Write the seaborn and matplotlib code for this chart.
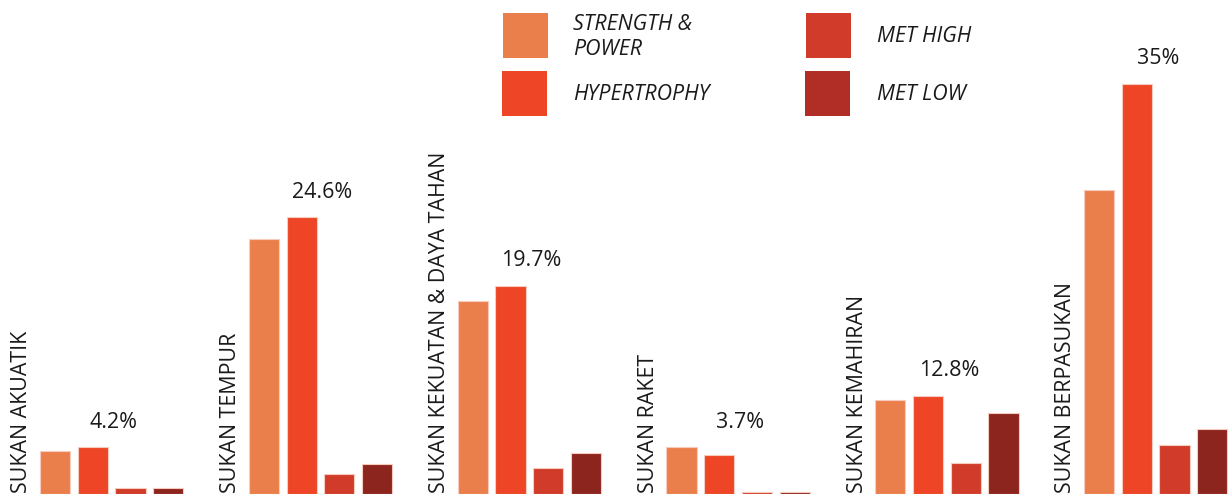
import matplotlib
matplotlib.use('Agg')
import matplotlib.pyplot as plt
import seaborn as sns
import pandas as pd
from matplotlib.patches import Rectangle

#sport groups and their overall share
groups = ['SUKAN AKUATIK', 'SUKAN TEMPUR', 'SUKAN KEKUATAN & DAYA TAHAN',
          'SUKAN RAKET', 'SUKAN KEMAHIRAN', 'SUKAN BERPASUKAN']
group_share = ['4.2%', '24.6%', '19.7%', '3.7%', '12.8%', '35%']

#training type series
series = ['STRENGTH &\nPOWER', 'HYPERTROPHY', 'MET HIGH', 'MET LOW']
strength_power = [4.3, 25.5, 19.3, 4.7, 9.4, 30.4]
hypertrophy = [4.7, 27.7, 20.8, 3.9, 9.8, 41.0]
met_high = [0.6, 2.0, 2.6, 0.2, 3.1, 4.9]
met_low = [0.6, 3.0, 4.1, 0.2, 8.1, 6.5]

#colours
bar_colors = ['#EB7F4C', '#EE4526', '#D13C2A', '#8D251F']
legend_colors = ['#EB7F4C', '#EE4526', '#D13C2A', '#B02E26']
TEXT_COLOR = '#1a1a1a'

sns.set_theme(style = 'white')
plt.rcParams['font.family'] = ['Open Sans', 'DejaVu Sans']

#long table for seaborn
rows = []
for name, vals in zip(series, [strength_power, hypertrophy, met_high, met_low]):
  for g, v in zip(groups, vals):
    rows.append({'group': g, 'series': name, 'value': v})
df = pd.DataFrame(rows)

W, H = 1230, 495
fig = plt.figure(figsize = (W / 100, H / 100), dpi = 100)
ax = fig.add_axes([0, 1 / H, 1, 1 - 1 / H])

sns.barplot(data = df, x = 'group', y = 'value', hue = 'series',
            order = groups, hue_order = series,
            palette = bar_colors, saturation = 1, width = 0.722, gap = 0.2,
            edgecolor = '#f7cbbd', linewidth = 0.8,
            errorbar = None, legend = False, ax = ax)

#x scale: ~208.8 px per group, first group centred at 111.7 px
px_per_group = 208.8
ax.set_xlim(-111.7 / px_per_group, (W - 111.7) / px_per_group)
ax.set_ylim(0, 49.4)
ax.set_axis_off()

#vertical group names on the left of each group
for i, g in enumerate(groups):
  ax.text(i - 0.43, 0.1, g, rotation = 90, ha = 'center', va = 'bottom',
          fontsize = 15.4, color = TEXT_COLOR)

#share labels above the tallest bar of each group
for i, share in enumerate(group_share):
  top = df[df['group'] == groups[i]]['value'].max()
  ax.annotate(share, (i + 0.01, top), xytext = (0, 25), textcoords = 'offset pixels',
              ha = 'center', va = 'center', fontsize = 15.4, color = TEXT_COLOR)

#legend drawn by hand, two columns of two
legend_pos = [(503, 13), (502, 71), (806, 13), (805, 71)]
text_x = [573, 573, 877, 877]
for (lx, ly), tx, name, c in zip(legend_pos, text_x, series, legend_colors):
  fig.add_artist(Rectangle((lx / W, 1 - (ly + 45) / H), 45 / W, 45 / H,
                           transform = fig.transFigure, facecolor = c, edgecolor = 'none'))
  fig.text(tx / W, 1 - (ly + 24) / H, name, ha = 'left', va = 'center',
           fontsize = 15.4, style = 'italic', color = TEXT_COLOR, linespacing = 1.25)

fig.savefig('out.png', dpi = 100)
